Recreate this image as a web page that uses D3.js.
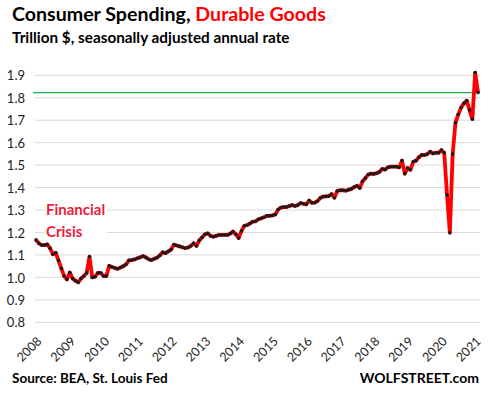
<!DOCTYPE html>
<html>
<head>
<meta charset="utf-8">
<script src="https://cdn.jsdelivr.net/npm/d3@7/dist/d3.min.js"></script>
<style>
  body { margin: 0; background: #fff; }
  svg { display: block; font-family: Lato, "Open Sans", sans-serif; }
</style>
</head>
<body>
<svg class="chart"></svg>
<script>
const width = 490,
  height = 398;

// monthly values, Jan 2008 .. Feb 2021, trillion $
const v2008 = [1.167, 1.152, 1.144, 1.144, 1.147, 1.130, 1.103, 1.110, 1.075, 1.040, 1.006, 0.991];
const v2009 = [1.022, 0.995, 0.985, 0.978, 0.995, 1.006, 1.020, 1.092, 1.000, 1.003, 1.020, 1.020];
const v2010 = [1.006, 1.006, 1.052, 1.046, 1.042, 1.038, 1.044, 1.050, 1.058, 1.076, 1.077, 1.080];
const v2011 = [1.085, 1.089, 1.095, 1.089, 1.081, 1.077, 1.083, 1.088, 1.098, 1.112, 1.108, 1.116];
const v2012 = [1.124, 1.146, 1.142, 1.138, 1.134, 1.130, 1.133, 1.140, 1.152, 1.140, 1.165, 1.178];
const v2013 = [1.192, 1.196, 1.185, 1.181, 1.185, 1.189, 1.189, 1.189, 1.189, 1.195, 1.204, 1.192];
const v2014 = [1.175, 1.207, 1.230, 1.233, 1.240, 1.248, 1.250, 1.259, 1.263, 1.268, 1.274, 1.274];
const v2015 = [1.276, 1.280, 1.302, 1.311, 1.313, 1.313, 1.318, 1.322, 1.318, 1.322, 1.331, 1.328];
const v2016 = [1.325, 1.342, 1.332, 1.333, 1.340, 1.354, 1.360, 1.361, 1.362, 1.371, 1.355, 1.385];
const v2017 = [1.388, 1.388, 1.386, 1.390, 1.394, 1.402, 1.408, 1.398, 1.428, 1.442, 1.458, 1.462];
const v2018 = [1.461, 1.464, 1.470, 1.483, 1.480, 1.490, 1.493, 1.493, 1.493, 1.490, 1.520, 1.462];
const v2019 = [1.487, 1.479, 1.515, 1.520, 1.535, 1.545, 1.545, 1.549, 1.560, 1.552, 1.555, 1.555];
const v2020 = [1.567, 1.555, 1.367, 1.199, 1.549, 1.689, 1.726, 1.756, 1.775, 1.787, 1.745, 1.705];
const v2021 = [1.912, 1.823];

const values = [].concat(v2008, v2009, v2010, v2011, v2012, v2013, v2014,
  v2015, v2016, v2017, v2018, v2019, v2020, v2021);
const years = d3.range(2008, 2022);
const yTicks = [0.8, 0.9, 1.0, 1.1, 1.2, 1.3, 1.4, 1.5, 1.6, 1.7, 1.8, 1.9];
const latest = values[values.length - 1];

let x = d3.scaleLinear()
  .domain([0, values.length - 1])
  .range([36, 478]);
let y = d3.scaleLinear()
  .domain([0.8, 1.9])
  .range([322.3, 75.3]);

let chart = d3.select(".chart")
  .attr("width", width)
  .attr("height", height);

// gridlines
chart.append("g")
  .selectAll("line")
  .data(yTicks)
  .join("line")
  .attr("x1", 35)
  .attr("x2", 480)
  .attr("y1", d => y(d))
  .attr("y2", d => y(d))
  .attr("stroke", "#d9d9d9")
  .attr("stroke-width", 1);

// y axis labels
let yAxis = d3.axisLeft(y)
  .tickValues(yTicks)
  .tickFormat(d3.format(".1f"))
  .tickSize(0)
  .tickPadding(0);
chart.append("g")
  .attr("transform", "translate(25,0)")
  .call(yAxis)
  .call(g => g.select(".domain").remove())
  .selectAll("text")
  .attr("font-family", "Lato, sans-serif")
  .attr("font-size", 13)
  .attr("fill", "#222")
  .attr("dy", "0.36em");

// x axis labels
let xAxis = d3.axisBottom(x)
  .tickValues(years.map((d, i) => i * 12))
  .tickFormat((d, i) => years[i])
  .tickSize(0);
chart.append("g")
  .attr("transform", "translate(0,334)")
  .call(xAxis)
  .call(g => g.select(".domain").remove())
  .selectAll("text")
  .attr("font-family", "Lato, sans-serif")
  .attr("font-size", 12.5)
  .attr("fill", "#222")
  .attr("text-anchor", "end")
  .attr("dy", 0)
  .attr("y", 0)
  .attr("transform", "translate(6,8) rotate(-45)");

// financial crisis label with white backing
chart.append("rect")
  .attr("x", 44)
  .attr("y", 199)
  .attr("width", 63)
  .attr("height", 42)
  .attr("fill", "#fff");
let crisis = chart.append("text")
  .attr("font-family", "Lato, sans-serif")
  .attr("font-weight", "bold")
  .attr("font-size", 15)
  .attr("fill", "#ec1c3a");
crisis.append("tspan").attr("x", 46).attr("y", 215).text("Financial");
crisis.append("tspan").attr("x", 46).attr("y", 237).text("Crisis");

// latest value line
chart.append("line")
  .attr("x1", 33)
  .attr("x2", 480)
  .attr("y1", y(latest))
  .attr("y2", y(latest))
  .attr("stroke", "#22b04b")
  .attr("stroke-width", 1.3);

// data line
let line = d3.line()
  .x((d, i) => x(i))
  .y(d => y(d));
chart.append("path")
  .datum(values)
  .attr("d", line)
  .attr("fill", "none")
  .attr("stroke", "#ff0000")
  .attr("stroke-width", 3.8)
  .attr("stroke-linejoin", "round");
chart.append("g")
  .selectAll("circle")
  .data(values)
  .join("circle")
  .attr("cx", (d, i) => x(i))
  .attr("cy", d => y(d))
  .attr("r", 1.8)
  .attr("fill", "#1a1a1a");

// titles
let title = chart.append("text")
  .attr("x", 12)
  .attr("y", 21)
  .attr("font-weight", "bold")
  .attr("font-size", 19.6);
title.append("tspan").attr("fill", "#000").text("Consumer Spending, ");
title.append("tspan").attr("fill", "#ff0000").text("Durable Goods");

chart.append("text")
  .attr("x", 12)
  .attr("y", 43)
  .attr("font-weight", "bold")
  .attr("font-size", 15.3)
  .attr("fill", "#000")
  .text("Trillion $, seasonally adjusted annual rate");

chart.append("text")
  .attr("x", 12)
  .attr("y", 383)
  .attr("font-weight", "bold")
  .attr("font-size", 13.5)
  .attr("fill", "#000")
  .text("Source: BEA, St. Louis Fed");

chart.append("text")
  .attr("x", 479)
  .attr("y", 383)
  .attr("text-anchor", "end")
  .attr("font-weight", "bold")
  .attr("font-size", 14)
  .attr("fill", "#000")
  .text("WOLFSTREET.com");
</script>
</body>
</html>
